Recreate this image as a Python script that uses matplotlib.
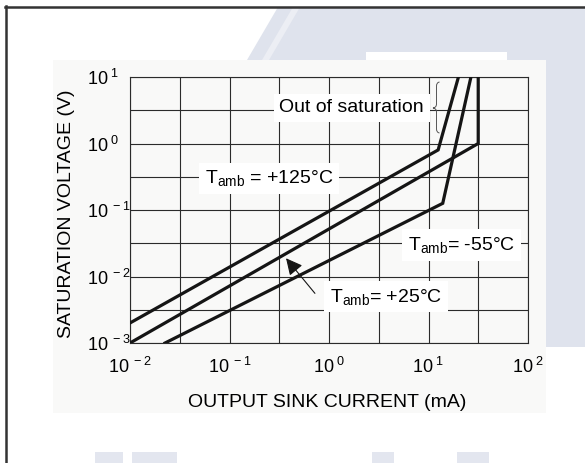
import matplotlib
matplotlib.use("Agg")
import matplotlib.pyplot as plt
from matplotlib.patches import Rectangle, Polygon, PathPatch
from matplotlib.path import Path
from matplotlib.lines import Line2D

# saturation voltage (V) vs output sink current (mA), one curve per T_amb
i_125 = [0.01, 12.5, 20.0]
v_125 = [0.002, 0.8, 10.0]
i_25 = [0.01, 31.6, 31.6]
v_25 = [0.001, 1.0, 10.0]
i_m55 = [0.0225, 13.9, 26.7]
v_m55 = [0.001, 0.126, 10.0]

# grid every half decade, labels on the decades
x_exp = [-2, -1.5, -1, -0.5, 0, 0.5, 1, 1.5, 2]
y_exp = [-3, -2.5, -2, -1.5, -1, -0.5, 0, 0.5, 1]

plt.rcParams['font.family'] = 'Liberation Sans'
plt.rcParams['mathtext.fontset'] = 'custom'
plt.rcParams['mathtext.rm'] = 'Liberation Sans'
plt.rcParams['mathtext.it'] = 'Liberation Sans:italic'
plt.rcParams['mathtext.bf'] = 'Liberation Sans:bold'

W, H = 585, 463
fig = plt.figure(figsize=(W / 100, H / 100), dpi=100)


def fx(x):
    return x / W


def fy(y):
    return 1 - y / H


# page background: watermark, grey card, frame
blue = '#dfe3ed'
fig.patches.append(Polygon([(fx(278), fy(7)), (1, fy(7)), (1, fy(347)), (fx(546), fy(347)),
                            (fx(546), fy(60)), (fx(247), fy(60))],
                           transform=fig.transFigure, facecolor=blue, edgecolor='none', zorder=-3))
fig.patches.append(Polygon([(fx(293), fy(7)), (fx(300), fy(7)), (fx(269), fy(60)), (fx(262), fy(60))],
                           transform=fig.transFigure, facecolor='#eceef4', edgecolor='none', zorder=-2))
fig.patches.append(Rectangle((fx(366), fy(60)), fx(507) - fx(366), 8 / H,
                             transform=fig.transFigure, facecolor='white', edgecolor='none', zorder=-2))
for x0, x1 in [(95, 123), (132, 177), (372, 394), (457, 489)]:
    fig.patches.append(Rectangle((fx(x0), 0), fx(x1) - fx(x0), 11 / H,
                                 transform=fig.transFigure, facecolor='#e3e6ef', edgecolor='none', zorder=-3))
fig.patches.append(Rectangle((fx(53), fy(413)), fx(546) - fx(53), (413 - 60) / H,
                             transform=fig.transFigure, facecolor='#f9f9f8', edgecolor='none', zorder=-1))
fig.lines.append(Line2D([fx(5), 1], [fy(6.5), fy(6.5)], transform=fig.transFigure,
                        color='#333333', lw=1.8, zorder=5))
fig.lines.append(Line2D([fx(6), fx(6)], [fy(5.8), 0], transform=fig.transFigure,
                        color='#333333', lw=1.8, zorder=5))

ax = fig.add_axes([fx(130), fy(343), (528 - 130) / W, (343 - 77) / H])
ax.set_facecolor('none')
ax.set_xscale('log')
ax.set_yscale('log')
ax.set_xlim(0.01, 100)
ax.set_ylim(0.001, 10)

ax.set_xticks([10 ** e for e in x_exp])
ax.set_xticklabels(['$10^{\\ %d}$' % e if e == int(e) else '' for e in x_exp], fontsize=13)
ax.set_yticks([10 ** e for e in y_exp])
ax.set_yticklabels(['$10^{\\ %d}$' % e if e == int(e) else '' for e in y_exp], fontsize=13)
ax.minorticks_off()
ax.tick_params(length=0)
ax.tick_params(axis='x', pad=10)
ax.tick_params(axis='y', pad=31)
for lab in ax.get_yticklabels():
    lab.set_ha('left')

ax.grid(True, color='#2b2b2b', lw=0.8)
for sp in ax.spines.values():
    sp.set_color('#2b2b2b')
    sp.set_linewidth(0.8)

ax.set_xlabel('OUTPUT SINK CURRENT (mA)', fontsize=14)
ax.xaxis.label.set_va('baseline')
ax.xaxis.set_label_coords(0.495, -0.2406)
ax.set_ylabel('SATURATION VOLTAGE (V)', fontsize=14)
ax.yaxis.label.set_va('baseline')
ax.yaxis.set_label_coords(-0.149, 0.485)

line_kw = dict(color='#151515', lw=2.3, solid_joinstyle='miter', zorder=3)
ax.plot(i_125, v_125, **line_kw)
ax.plot(i_25, v_25, **line_kw)
ax.plot(i_m55, v_m55, **line_kw)

box = dict(facecolor='white', edgecolor='none', pad=4)
ax.text(9.0, 3.42, 'Out of saturation', fontsize=14, ha='right', va='center', bbox=box, zorder=4)
ax.text(0.0568, 0.252, 'T$_{\\mathregular{amb}}$ = +125\u00b0C', fontsize=14, ha='left',
        va='baseline', bbox=box, zorder=4)
ax.text(6.22, 0.025, 'T$_{\\mathregular{amb}}$= -55\u00b0C', fontsize=14, ha='left',
        va='baseline', bbox=box, zorder=4)
ax.text(1.023, 0.00418, 'T$_{\\mathregular{amb}}$= +25\u00b0C', fontsize=14, ha='left',
        va='baseline', bbox=box, zorder=4)
ax.annotate('', xy=(0.370, 0.0188), xytext=(0.722, 0.00558),
            arrowprops=dict(arrowstyle='-|>', color='#151515', lw=0.8,
                            mutation_scale=25, shrinkA=0, shrinkB=0), zorder=4)


# curly brace beside the "Out of saturation" label
def axp(x, y):
    return ((x - 130) / 398, (343 - y) / 266)


brace = [(439.5, 82), (436.5, 82.5), (436.5, 86), (436.5, 104), (436.5, 107.5), (433, 108),
         (436.5, 108.5), (436.5, 112), (436.5, 129), (436.5, 132.5), (439.5, 133)]
codes = [Path.MOVETO, Path.CURVE3, Path.CURVE3, Path.LINETO, Path.CURVE3, Path.CURVE3,
         Path.CURVE3, Path.CURVE3, Path.LINETO, Path.CURVE3, Path.CURVE3]
ax.add_patch(PathPatch(Path([axp(x, y) for x, y in brace], codes), transform=ax.transAxes,
                       facecolor='none', edgecolor='#555555', lw=0.7, clip_on=False, zorder=4))

fig.savefig('out.png', dpi=100, facecolor='white')
